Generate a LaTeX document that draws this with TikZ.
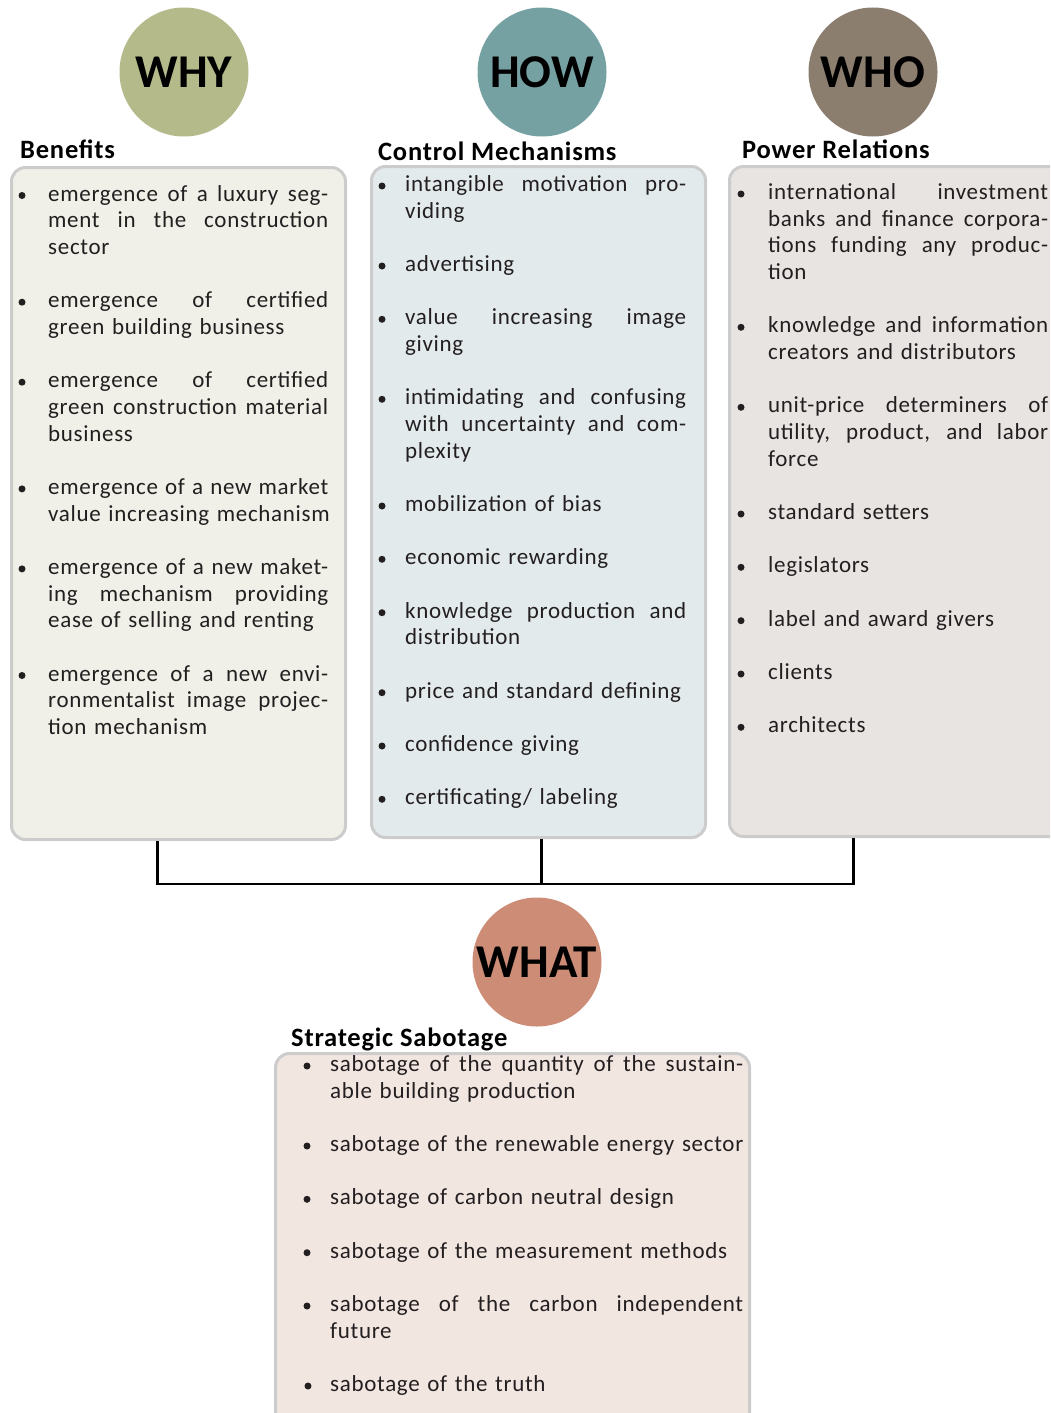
\documentclass[tikz,border=0pt]{standalone}
\usepackage{fontspec}
\setmainfont{Carlito}
\newfontfamily\bodyfont{Carlito}[LetterSpace=3]
\setlength\parindent{0pt}

\definecolor{whyc}{RGB}{181,186,138}
\definecolor{howc}{RGB}{118,161,163}
\definecolor{whoc}{RGB}{140,126,110}
\definecolor{whatc}{RGB}{204,140,118}
\definecolor{whyfill}{RGB}{240,240,232}
\definecolor{howfill}{RGB}{227,234,236}
\definecolor{whofill}{RGB}{232,228,225}
\definecolor{whatfill}{RGB}{242,230,225}
\definecolor{rim}{RGB}{204,204,204}
\definecolor{ink}{RGB}{35,31,32}

\newlength\entryw
% a justified line: its interword spaces stretch to the full entry width
\newcommand\J[1]{\leavevmode\hbox to \entryw{\spaceskip=\fontdimen2\font plus 1fil\relax #1}\\}
% one bulleted entry: name, bullet x, text x, first baseline, text width, text
\newcommand\entry[6]{%
  \setlength\entryw{#5pt}%
  \node[bulletdot] (#1-b) at (#2,{#4-5.5}) {};
  \node[entrytext, text width=#5pt, anchor=base west] (#1) at (#3,#4) {#6};}

\begin{document}
\begin{tikzpicture}[x=1pt,y=-1pt,
  topic/.style={circle, minimum size=129pt, inner sep=0pt,
    font=\fontsize{47}{50}\selectfont\bfseries, text=black},
  panel/.style={rectangle, rounded corners=14pt, draw=rim, line width=3pt,
    anchor=north west, inner sep=0pt},
  heading/.style={anchor=base west, inner sep=0pt,
    font=\bodyfont\fontsize{26.5}{28}\selectfont\bfseries, text=black},
  entrytext/.style={inner sep=0pt, align=left, text=ink,
    font=\bodyfont\fontsize{23}{26.67}\selectfont},
  bulletdot/.style={circle, fill=ink, minimum size=7pt, inner sep=0pt},
  link/.style={draw=black, line width=2.2pt}]
\useasboundingbox (0,0) rectangle (1050,1413);
\clip (0,0) rectangle (1050,1413);

% question circles
\node[topic, fill=whyc]  (why)  at (184,72)  {WHY};
\node[topic, fill=howc]  (how)  at (542,72)  {HOW};
\node[topic, fill=whoc]  (who)  at (873,72)  {WHO};
\node[topic, fill=whatc] (what) at (537,962) {WHAT};

% panels
\node[panel, fill=whyfill,  minimum width=334pt, minimum height=672pt] (whybox)  at (10,166) {};
\node[panel, fill=howfill,  minimum width=334pt, minimum height=671pt] (howbox)  at (370,165) {};
\node[panel, fill=whofill,  minimum width=345pt, minimum height=670pt] (whobox)  at (728,165) {};
\node[panel, fill=whatfill, minimum width=474pt, minimum height=420pt] (whatbox) at (274,1052) {};

% headings
\node[heading] (whyhead)  at (20,158)   {Benefits};
\node[heading] (howhead)  at (378,160)  {Control Mechanisms};
\node[heading] (whohead)  at (742,158)  {Power Relations};
\node[heading] (whathead) at (291,1046) {Strategic Sabotage};

% connectors from the three panels
\draw[link] ([xshift=-21pt]whybox.south) -- ++(0,43) -| ([xshift=-48.5pt]whobox.south);
\draw[link] ([xshift=3pt]howbox.south) -- ++(0,45);

% Benefits
\entry{b1}{22}{48}{201}{280}{\J{emergence of a luxury seg-}\J{ment in the construction}sector}
\entry{b2}{22}{48}{307.7}{280}{\J{emergence of certified}green building business}
\entry{b3}{22}{48}{387.7}{280}{\J{emergence of certified}\J{green construction material}business}
\entry{b4}{22}{48}{494.4}{280}{\J{emergence of a new market}value increasing mechanism}
\entry{b5}{22}{48}{574.4}{280}{\J{emergence of a new maket-}\J{ing mechanism providing}ease of selling and renting}
\entry{b6}{22}{48}{681}{280}{\J{emergence of a new envi-}\J{ronmentalist image projec-}tion mechanism}

% Control Mechanisms
\entry{c1}{382}{405}{191.5}{281}{\J{intangible motivation pro-}viding}
\entry{c2}{382}{405}{271.5}{281}{advertising}
\entry{c3}{382}{405}{324.8}{281}{\J{value increasing image}giving}
\entry{c4}{382}{405}{404.8}{281}{\J{intimidating and confusing}\J{with uncertainty and com-}plexity}
\entry{c5}{382}{405}{511.5}{281}{mobilization of bias}
\entry{c6}{382}{405}{564.8}{281}{economic rewarding}
\entry{c7}{382}{405}{618.2}{281}{\J{knowledge production and}distribution}
\entry{c8}{382}{405}{698.2}{281}{price and standard defining}
\entry{c9}{382}{405}{751.5}{281}{confidence giving}
\entry{c10}{382}{405}{804.8}{281}{certificating/ labeling}

% Power Relations
\entry{p1}{741}{768}{199.5}{280}{\J{international investment}\J{banks and finance corpora-}\J{tions funding any produc-}tion}
\entry{p2}{741}{768}{332.8}{280}{\J{knowledge and information}creators and distributors}
\entry{p3}{741}{768}{412.8}{280}{\J{unit-price determiners of}\J{utility, product, and labor}force}
\entry{p4}{741}{768}{519.5}{280}{standard setters}
\entry{p5}{741}{768}{572.8}{280}{legislators}
\entry{p6}{741}{768}{626.2}{280}{label and award givers}
\entry{p7}{741}{768}{679.5}{280}{clients}
\entry{p8}{741}{768}{732.8}{280}{architects}

% Strategic Sabotage
\entry{s1}{307}{330}{1071.5}{413}{\J{sabotage of the quantity of the sustain-}able building production}
\entry{s2}{307}{330}{1151.5}{413}{sabotage of the renewable energy sector}
\entry{s3}{307}{330}{1204.8}{413}{sabotage of carbon neutral design}
\entry{s4}{307}{330}{1258.2}{413}{sabotage of the measurement methods}
\entry{s5}{307}{330}{1311.5}{413}{\J{sabotage of the carbon independent}future}
\entry{s6}{308}{330}{1391.5}{413}{sabotage of the truth}
\end{tikzpicture}
\end{document}
